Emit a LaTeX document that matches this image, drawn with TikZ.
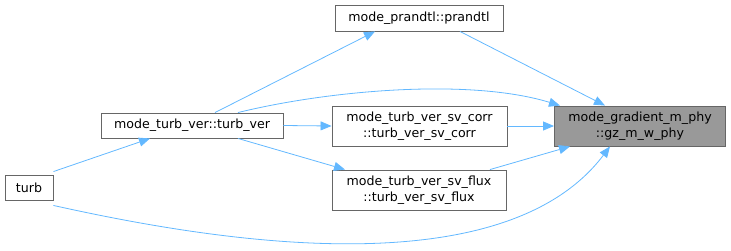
\documentclass[tikz,border=0pt]{standalone}
\usepackage{fontspec}
\setmainfont{DejaVu Sans}
\usetikzlibrary{arrows.meta}

\definecolor{edgeblue}{HTML}{63B8FF}
\definecolor{boxgray}{HTML}{666666}
\definecolor{focusgray}{HTML}{999999}

\tikzset{
    fn/.style={draw=boxgray, fill=white, line width=0.9pt, inner sep=0pt,
        align=center, font=\fontsize{12.6}{15.5}\selectfont},
    call/.style={draw=edgeblue, line width=0.8pt,
        -{Triangle[length=11pt,width=9pt]}}
}

\begin{document}
\begin{tikzpicture}[x=1pt, y=-1pt]
        \useasboundingbox (0,0) rectangle (731,250);

        % Functions
        \node[fn, minimum width=48pt, minimum height=25pt] (turb) at (29,187.5) {turb};
        \node[fn, minimum width=182pt, minimum height=25pt] (turbver) at (192,125.5) {mode\_turb\_ver::turb\_ver};
        \node[fn, minimum width=168pt, minimum height=26pt] (prandtl) at (419,18) {mode\_prandtl::prandtl};
        \node[fn, minimum width=175pt, minimum height=40pt] (svcorr) at (419.5,126) {mode\_turb\_ver\_sv\_corr\\::turb\_ver\_sv\_corr};
        \node[fn, minimum width=174pt, minimum height=40pt] (svflux) at (419,190) {mode\_turb\_ver\_sv\_flux\\::turb\_ver\_sv\_flux};
        \node[fn, fill=focusgray, minimum width=171pt, minimum height=40pt] (gz) at (640,126) {mode\_gradient\_m\_phy\\::gz\_m\_w\_phy};

        % Calls
        \draw[call] (turb.north east) ++(0,3pt) coordinate (t1) (t1) -- (turbver.south -| 150,0);
        \draw[call] (turbver.north -| 215,0) -- (prandtl.south -| 375,0);
        \draw[call] (turbver.north -| 238,0) .. controls (330,90) and (470,78) .. (gz.north west -| 560,0);
        \draw[call] (turbver.east) -- (svcorr.west);
        \draw[call] (turbver.south -| 238,0) -- (svflux.north -| 345,0);
        \draw[call] (turb.south east) ++(0,-5pt) coordinate (t2) (t2) .. controls (200,238) and (500,292) .. (gz.south -| 610,0);
        \draw[call] (prandtl.south -| 460,0) -- (gz.north -| 605,0);
        \draw[call] (svcorr.east) -- (gz.west);
        \draw[call] (svflux.north -| 490,0) -- (gz.south -| 570,0);
\end{tikzpicture}
\end{document}
